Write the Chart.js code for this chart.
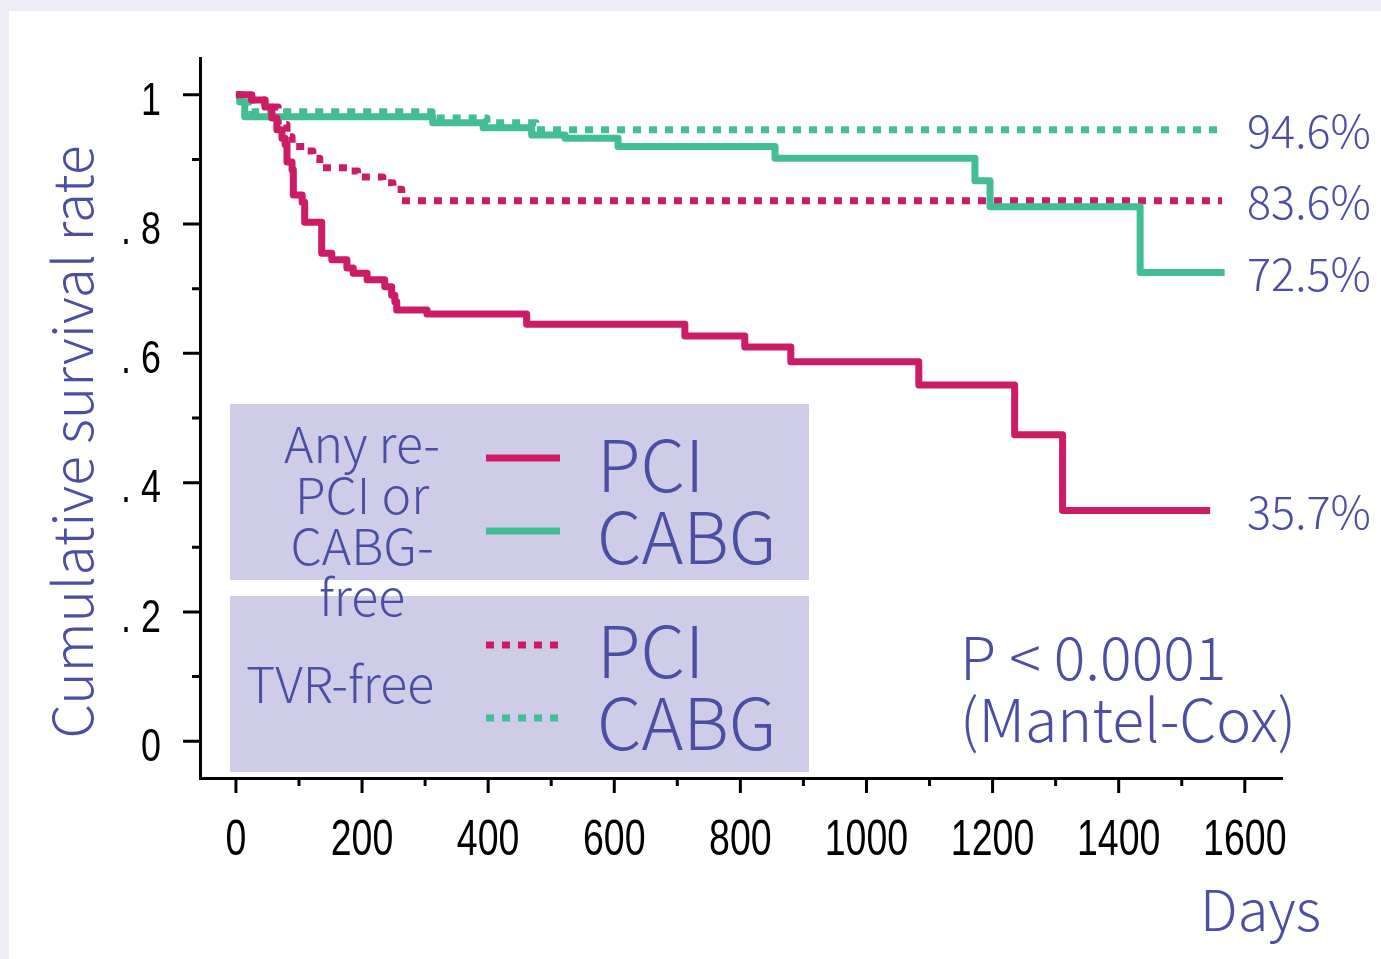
<!DOCTYPE html>
<html>
<head>
<meta charset="utf-8">
<title>Cumulative survival rate</title>
<script src="https://cdn.jsdelivr.net/npm/chart.js@4.4.1/dist/chart.umd.min.js"></script>
<style>
  html, body { margin: 0; padding: 0; background: #fff; }
  canvas { display: block; }
</style>
</head>
<body>
<canvas id="km" width="1381" height="959"></canvas>
<script>
// Kaplan-Meier steps: day of each event and the survival right after it.
// The last entry of each series is the end of follow-up.
const pciAnyDays  = [0, 25, 46, 57, 65, 73, 78, 81, 89, 91, 105, 109, 136, 152, 176, 186, 208, 236, 247, 252, 255, 303, 461, 712, 807, 880, 1083, 1235, 1311, 1545];
const pciAnyRate  = [1, 0.992, 0.981, 0.964, 0.946, 0.933, 0.923, 0.896, 0.884, 0.845, 0.834, 0.803, 0.755, 0.745, 0.732, 0.724, 0.714, 0.703, 0.690, 0.680, 0.667, 0.661, 0.645, 0.627, 0.610, 0.587, 0.551, 0.474, 0.357, 0.357];

const cabgAnyDays = [0, 6, 14, 312, 392, 469, 522, 606, 855, 1172, 1196, 1434, 1568];
const cabgAnyRate = [1, 0.989, 0.966, 0.957, 0.949, 0.938, 0.933, 0.920, 0.902, 0.867, 0.827, 0.725, 0.725];

const pciTvrDays  = [0, 25, 46, 67, 81, 89, 109, 122, 133, 181, 193, 233, 249, 263, 1564];
const pciTvrRate  = [1, 0.992, 0.981, 0.954, 0.935, 0.920, 0.913, 0.902, 0.887, 0.882, 0.873, 0.864, 0.854, 0.836, 0.836];

const cabgTvrDays = [0, 6, 25, 311, 398, 476, 1564];
const cabgTvrRate = [1, 0.989, 0.974, 0.964, 0.957, 0.946, 0.946];

const xTicks = [0, 200, 400, 600, 800, 1000, 1200, 1400, 1600];
const xMinorTicks = [100, 300, 500, 700, 900, 1100, 1300, 1500];
const yTicks = [0, 0.2, 0.4, 0.6, 0.8, 1];
const yTickLabels = ['0', '. 2', '. 4', '. 6', '. 8', '1'];
const yMinorTicks = [0.1, 0.3, 0.5, 0.7, 0.9];

const anyLabel = ['Any re-', 'PCI or', 'CABG-', 'free'];
const tvrLabel = ['TVR-free'];
const groupNames = ['PCI', 'CABG'];
const pValueText = ['P < 0.0001', '(Mantel-Cox)'];
const xTitle = 'Days';
const yTitle = 'Cumulative survival rate';

const MAGENTA = '#cc1c66';
const GREEN = '#43bd92';
const INK = '#4a4fa3';
const PANEL = '#cfcce7';
const TEXT_FONT = '"Noto Sans CJK KR", "Noto Sans", sans-serif';
const TICK_FONT = '"Liberation Sans", Arial, sans-serif';

const toPoints = (days, rates) => days.map((d, i) => ({ x: d, y: rates[i] }));

function text(ctx, str, x, y, size, align) {
  ctx.font = `300 ${size}px ${TEXT_FONT}`;
  ctx.textAlign = align || 'left';
  ctx.textBaseline = 'middle';
  ctx.fillText(str, x, y);
}

// tick numbers are set in a narrow face, so squeeze them horizontally
function tickText(ctx, str, x, y, size, squeeze, align) {
  ctx.save();
  ctx.translate(x, y);
  ctx.scale(squeeze, 1);
  ctx.font = `${size}px ${TICK_FONT}`;
  ctx.fillStyle = '#000';
  ctx.textAlign = align;
  ctx.textBaseline = 'middle';
  ctx.fillText(str, 0, 0);
  ctx.restore();
}

function sample(ctx, ds, x1, x2, y) {
  ctx.save();
  ctx.strokeStyle = ds.borderColor;
  ctx.lineWidth = ds.borderWidth;
  ctx.setLineDash(ds.borderDash || []);
  ctx.beginPath();
  ctx.moveTo(x1, y);
  ctx.lineTo(x2, y);
  ctx.stroke();
  ctx.restore();
}

const decorations = {
  id: 'decorations',
  beforeDraw(chart) {
    const { ctx, width, height } = chart;
    ctx.save();
    ctx.fillStyle = '#eeedf7';
    ctx.fillRect(0, 0, width, height);
    ctx.fillStyle = '#fff';
    ctx.fillRect(9, 11, width - 9, height - 11);
    ctx.restore();
  },
  afterDraw(chart) {
    const { ctx } = chart;
    const { x, y } = chart.scales;
    const ds = chart.data.datasets;
    ctx.save();

    // tick marks, long where labelled and short in between
    ctx.strokeStyle = '#000';
    ctx.lineWidth = 3;
    ctx.beginPath();
    xTicks.forEach(v => { const p = x.getPixelForValue(v); ctx.moveTo(p, x.top); ctx.lineTo(p, x.top + 15); });
    xMinorTicks.forEach(v => { const p = x.getPixelForValue(v); ctx.moveTo(p, x.top); ctx.lineTo(p, x.top + 8); });
    yTicks.forEach(v => { const p = y.getPixelForValue(v); ctx.moveTo(y.right, p); ctx.lineTo(y.right - 17, p); });
    yMinorTicks.forEach(v => { const p = y.getPixelForValue(v); ctx.moveTo(y.right, p); ctx.lineTo(y.right - 8, p); });
    ctx.stroke();

    xTicks.forEach(v => tickText(ctx, String(v), x.getPixelForValue(v), x.top + 63, 50, 0.75, 'center'));
    yTicks.forEach((v, i) => tickText(ctx, yTickLabels[i], y.right - 39, y.getPixelForValue(v) + 7, 46, 0.78, 'right'));

    // legend panels
    ctx.fillStyle = PANEL;
    ctx.fillRect(230, 404, 579, 176);
    ctx.fillRect(230, 596, 579, 176);

    ctx.fillStyle = INK;
    anyLabel.forEach((s, i) => text(ctx, s, 362, 444 + i * 51, 50, 'center'));
    tvrLabel.forEach(s => text(ctx, s, 340, 684, 50, 'center'));

    sample(ctx, ds[0], 486, 560, 458);
    sample(ctx, ds[1], 486, 560, 531);
    sample(ctx, ds[2], 486, 560, 645);
    sample(ctx, ds[3], 486, 560, 718);
    ctx.fillStyle = INK;
    text(ctx, groupNames[0], 597, 465, 71);
    text(ctx, groupNames[1], 597, 537, 71);
    text(ctx, groupNames[0], 597, 651, 71);
    text(ctx, groupNames[1], 597, 723, 71);

    // survival at end of follow-up
    ds.forEach(d => {
      const last = d.data[d.data.length - 1].y;
      text(ctx, (last * 100).toFixed(1) + '%', 1247, y.getPixelForValue(last) + 1, 45);
    });

    text(ctx, pValueText[0], 960, 658, 59);
    text(ctx, pValueText[1], 960, 720, 59);

    text(ctx, xTitle, 1200, 910, 56);

    ctx.translate(72, 442);
    ctx.rotate(-Math.PI / 2);
    text(ctx, yTitle, 0, 0, 55, 'center');
    ctx.restore();
  }
};

new Chart(document.getElementById('km'), {
  type: 'line',
  data: {
    datasets: [
      { label: 'PCI', data: toPoints(pciAnyDays, pciAnyRate), borderColor: MAGENTA, borderWidth: 7 },
      { label: 'CABG', data: toPoints(cabgAnyDays, cabgAnyRate), borderColor: GREEN, borderWidth: 7 },
      { label: 'PCI TVR', data: toPoints(pciTvrDays, pciTvrRate), borderColor: MAGENTA, borderWidth: 7, borderDash: [8, 8] },
      { label: 'CABG TVR', data: toPoints(cabgTvrDays, cabgTvrRate), borderColor: GREEN, borderWidth: 7, borderDash: [8, 8] }
    ]
  },
  options: {
    responsive: false,
    animation: false,
    devicePixelRatio: 1,
    layout: { padding: { top: 58, right: 99, left: 0, bottom: 0 } },
    elements: {
      point: { radius: 0 },
      line: { stepped: 'before', borderJoinStyle: 'round', fill: false }
    },
    plugins: { legend: { display: false }, tooltip: { enabled: false } },
    scales: {
      x: {
        type: 'linear',
        min: -57,
        max: 1659,
        afterFit: s => { s.height = 181; },
        afterBuildTicks: s => { s.ticks = xTicks.map(v => ({ value: v })); },
        grid: { display: false, drawTicks: false },
        border: { display: true, color: '#000', width: 3 },
        ticks: { display: false }
      },
      y: {
        type: 'linear',
        min: -0.057,
        max: 1.057,
        afterFit: s => { s.width = 200; },
        afterBuildTicks: s => { s.ticks = yTicks.map(v => ({ value: v })); },
        grid: { display: false, drawTicks: false },
        border: { display: true, color: '#000', width: 3 },
        ticks: { display: false }
      }
    }
  },
  plugins: [decorations]
});
</script>
</body>
</html>
